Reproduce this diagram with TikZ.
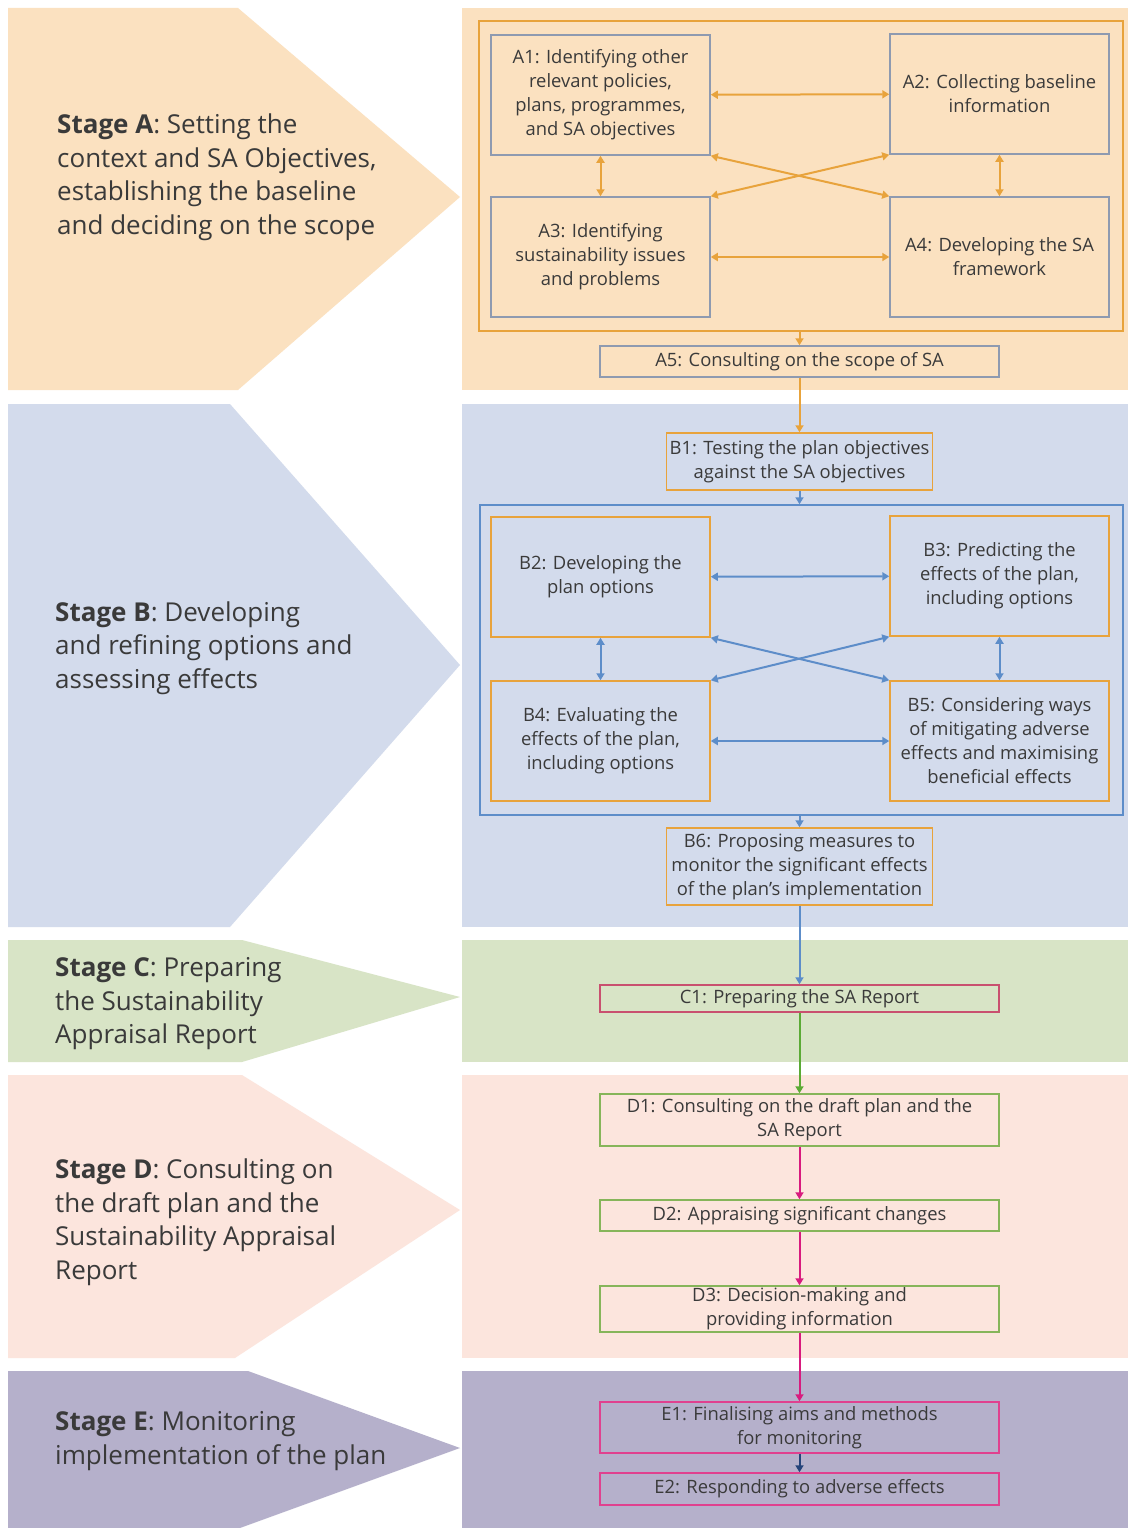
\documentclass[tikz,border=0pt]{standalone}
\usepackage{fontspec}
\setmainfont{Open Sans}
\usepackage{tikz}
\usetikzlibrary{arrows.meta}
\usepackage{xcolor}

\definecolor{peachA}{HTML}{FBE1C0}
\definecolor{lavB}{HTML}{D3DBEC}
\definecolor{greenC}{HTML}{D8E4C6}
\definecolor{pinkD}{HTML}{FCE5DD}
\definecolor{purpleE}{HTML}{B5B0CB}
\definecolor{orangeArr}{HTML}{E8A33C}
\definecolor{grayBd}{HTML}{8E9AB0}
\definecolor{blueArr}{HTML}{5D8DC9}
\definecolor{roseBd}{HTML}{C9506F}
\definecolor{greenArr}{HTML}{5BAA35}
\definecolor{greenBd}{HTML}{86B55A}
\definecolor{magArr}{HTML}{D81B7E}
\definecolor{pinkBd}{HTML}{E0418F}
\definecolor{navyArr}{HTML}{25437A}
\definecolor{textgray}{HTML}{3A3A3A}

\newcommand{\boxfont}{\fontsize{18.4}{24}\selectfont}
\newcommand{\stagefont}{\fontsize{26}{33.5}\selectfont}

\tikzset{
  stbox/.style={draw=#1, line width=1.5pt, inner sep=0pt, align=center,
    font=\boxfont, text=textgray},
  quad/.style={minimum width=219pt, minimum height=120pt},
  wide/.style={minimum width=399pt, minimum height=#1},
  mid/.style={minimum width=266pt, minimum height=#1},
  frame/.style={draw=#1, line width=1.5pt, inner sep=0pt,
    minimum width=644pt, minimum height=310pt},
  stagetext/.style={anchor=west, align=left, inner sep=0pt, font=\stagefont,
    text=textgray},
  link/.style={#1, line width=2pt},
  >={Triangle[length=7pt,width=8pt]}
}

\begin{document}
\begin{tikzpicture}[x=1pt, y=-1pt]
  \useasboundingbox (0,0) rectangle (1128,1528);
  \fill[white] (0,0) rectangle (1128,1528);

  % Stage panels
  \foreach \c/\t/\b/\m/\u/\l in {peachA/8/390/197/238/238, lavB/404/927/665/230/230,
    greenC/940/1062/997/242/242, pinkD/1075/1358/1210/242/235,
    purpleE/1371/1528/1448/248/240}
  {
    \fill[\c] (8,\t) -- (\u,\t) -- (460,\m) -- (\l,\b) -- (8,\b) -- cycle;
    \fill[\c] (462,\t) rectangle (1128,\b);
  }

  % Stage texts
  \node[stagetext] (stA) at (57,177) {\textbf{Stage A}: Setting the\\context and SA Objectives,\\establishing the baseline\\and deciding on the scope};
  \node[stagetext] (stB) at (55,648) {\textbf{Stage B}: Developing\\and refining options and\\assessing effects};
  \node[stagetext] (stC) at (55,1004) {\textbf{Stage C}: Preparing\\the Sustainability\\Appraisal Report};
  \node[stagetext] (stD) at (55,1222) {\textbf{Stage D}: Consulting on\\the draft plan and the\\Sustainability Appraisal\\Report};
  \node[stagetext] (stE) at (55,1441) {\textbf{Stage E}: Monitoring\\implementation of the plan};

  % Stage A boxes
  \node[frame=orangeArr] (frA) at (801,176) {};
  \node[stbox=grayBd, quad] (A1) at (600.5,95) {A1: Identifying other\\relevant policies,\\plans, programmes,\\and SA objectives};
  \node[stbox=grayBd, quad] (A2) at (999.5,94) {A2: Collecting baseline\\information};
  \node[stbox=grayBd, quad] (A3) at (600.5,257) {A3: Identifying\\sustainability issues\\and problems};
  \node[stbox=grayBd, quad] (A4) at (999.5,257) {A4: Developing the SA\\framework};
  \node[stbox=grayBd, wide=31pt] (A5) at (799.5,361.5) {A5: Consulting on the scope of SA};

  % Stage B boxes
  \node[stbox=orangeArr, mid=57pt] (B1) at (799.5,461.5) {B1: Testing the plan objectives\\against the SA objectives};
  \node[frame=blueArr, minimum width=643pt] (frB) at (801.5,660) {};
  \node[stbox=orangeArr, quad] (B2) at (600.5,577) {B2: Developing the\\plan options};
  \node[stbox=orangeArr, quad] (B3) at (999.5,576) {B3: Predicting the\\effects of the plan,\\including options};
  \node[stbox=orangeArr, quad] (B4) at (600.5,741) {B4: Evaluating the\\effects of the plan,\\including options};
  \node[stbox=orangeArr, quad] (B5) at (999.5,741) {B5: Considering ways\\of mitigating adverse\\effects and maximising\\beneficial effects};
  \node[stbox=orangeArr, mid=77pt] (B6) at (799.5,866.5) {B6: Proposing measures to\\monitor the significant effects\\of the plan's implementation};

  % Stages C, D and E boxes
  \node[stbox=roseBd, wide=27pt] (C1) at (799.5,998.5) {C1: Preparing the SA Report};
  \node[stbox=greenBd, wide=52pt] (D1) at (799.5,1120) {D1: Consulting on the draft plan and the\\SA Report};
  \node[stbox=greenBd, wide=31pt] (D2) at (799.5,1215.5) {D2: Appraising significant changes};
  \node[stbox=greenBd, wide=46pt] (D3) at (799.5,1309) {D3: Decision-making and\\providing information};
  \node[stbox=pinkBd, wide=51pt] (E1) at (799.5,1427.5) {E1: Finalising aims and methods\\for monitoring};
  \node[stbox=pinkBd, wide=32pt] (E2) at (799.5,1489) {E2: Responding to adverse effects};

  % Two-way arrows inside the frames
  \foreach \s/\p/\q/\r/\w/\col in {A/1/2/3/4/orangeArr, B/2/3/4/5/blueArr}
  {
    \draw[link=\col, <->] (\s\p) -- (\s\q);
    \draw[link=\col, <->] (\s\r) -- (\s\w);
    \draw[link=\col, <->] (\s\p) -- (\s\r);
    \draw[link=\col, <->] (\s\q) -- (\s\w);
    \draw[link=\col, <->] (\s\p.south east) -- (\s\w.north west);
    \draw[link=\col, <->] (\s\q.south west) -- (\s\r.north east);
  }

  % Main flow
  \draw[link=orangeArr, ->] (A5 |- frA.south) -- (A5);
  \draw[link=orangeArr, ->] (A5) -- (B1);
  \draw[link=blueArr, ->] (B1) -- (B1 |- frB.north);
  \draw[link=blueArr, ->] (B6 |- frB.south) -- (B6);
  \draw[link=blueArr, ->] (B6) -- (C1);
  \draw[link=greenArr, ->] (C1) -- (D1);
  \foreach \a/\b in {D1/D2, D2/D3, D3/E1}
  {
    \draw[link=magArr, ->] (\a) -- (\b);
  }
  \draw[link=navyArr, ->] (E1) -- (E2);
\end{tikzpicture}
\end{document}
